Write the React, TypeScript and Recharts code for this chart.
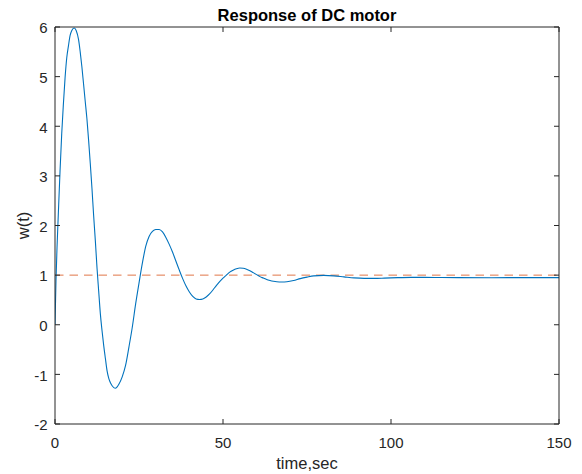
import React from "react";
import { LineChart, Line, XAxis, YAxis, ReferenceLine } from "recharts";

const times: number[] = [
  0, 0.3, 0.6, 1, 1.5, 2, 2.5, 3, 3.5, 4, 4.5, 5, 5.7, 6.3, 7, 7.5, 8, 8.5, 9, 9.5,
  10, 10.5, 11, 11.5, 12, 12.5, 13, 13.5, 14, 14.5, 15, 15.5, 16, 16.5, 17, 17.9,
  18.5, 19, 20, 21, 22, 23, 24, 25, 26, 27, 28, 29, 30, 31, 32, 33, 34, 35, 36,
  37, 38, 39, 40, 41, 42, 43, 44, 45, 46, 47, 48, 49, 50, 51, 52, 53, 54, 55, 56,
  57, 58, 59, 60, 61, 62, 63, 64, 65, 66, 67.5, 69, 71, 73, 75, 77, 80, 83, 86,
  89, 92, 95, 98, 102, 106, 110, 115, 120, 130, 140, 150,
];

const speed: number[] = [
  0, 0.9, 1.55, 2.25, 3.1, 3.85, 4.45, 4.98, 5.38, 5.62, 5.83, 5.93, 5.98, 5.93,
  5.75, 5.5, 5.2, 4.85, 4.5, 4.15, 3.72, 3.25, 2.75, 2.2, 1.7, 1.15, 0.68, 0.22,
  -0.12, -0.42, -0.68, -0.93, -1.08, -1.17, -1.23, -1.28, -1.25, -1.2, -1.05,
  -0.82, -0.45, -0.05, 0.42, 0.84, 1.24, 1.58, 1.78, 1.88, 1.92, 1.92, 1.87, 1.76,
  1.62, 1.46, 1.28, 1.1, 0.93, 0.78, 0.66, 0.57, 0.52, 0.51, 0.52, 0.56, 0.62,
  0.7, 0.79, 0.87, 0.94, 1.0, 1.06, 1.1, 1.13, 1.145, 1.14, 1.12, 1.09, 1.05,
  1.01, 0.97, 0.94, 0.91, 0.89, 0.875, 0.865, 0.86, 0.865, 0.89, 0.93, 0.96,
  0.985, 0.995, 0.985, 0.965, 0.945, 0.935, 0.935, 0.94, 0.95, 0.955, 0.955,
  0.952, 0.95, 0.948, 0.95, 0.95,
];

const referenceValue = 1;
const xTicks: number[] = [0, 50, 100, 150];
const yTicks: number[] = [-2, -1, 0, 1, 2, 3, 4, 5, 6];
const titleText = "Response of DC motor";
const xLabelText = "time,sec";
const yLabelText = "w(t)";

const data = times.map((t, i) => ({ t, w: speed[i] }));

const FONT = "'Liberation Sans', Arial, Helvetica, sans-serif";
const AXIS_COLOR = "#262626";
const tickStyle = { fontSize: 15, fill: AXIS_COLOR, fontFamily: FONT };
const blank = () => "";

export default function App() {
  return (
    <div style={{ position: "absolute", left: 0, top: 0, width: 582, height: 474, background: "#fff" }}>
      <LineChart
        width={582}
        height={474}
        data={data}
        margin={{ top: 0, right: 0, bottom: 0, left: 0 }}
      >
        <XAxis
          xAxisId="bottom"
          dataKey="t"
          type="number"
          domain={[0, 150]}
          ticks={xTicks}
          orientation="bottom"
          height={50}
          tickSize={-5}
          tickMargin={18}
          stroke={AXIS_COLOR}
          tick={tickStyle}
          allowDataOverflow
        />
        <XAxis
          xAxisId="top"
          dataKey="t"
          type="number"
          domain={[0, 150]}
          ticks={xTicks}
          orientation="top"
          height={27}
          tickSize={-5}
          tickFormatter={blank}
          stroke={AXIS_COLOR}
          allowDataOverflow
        />
        <YAxis
          yAxisId="left"
          type="number"
          domain={[-2, 6]}
          ticks={yTicks}
          orientation="left"
          width={55}
          tickSize={-5}
          tickMargin={12.5}
          stroke={AXIS_COLOR}
          tick={{ ...tickStyle, dy: 1 }}
          allowDataOverflow
        />
        <YAxis
          yAxisId="right"
          type="number"
          domain={[-2, 6]}
          ticks={yTicks}
          orientation="right"
          width={23}
          tickSize={-5}
          tickFormatter={blank}
          stroke={AXIS_COLOR}
          allowDataOverflow
        />
        <ReferenceLine
          xAxisId="bottom"
          yAxisId="left"
          y={referenceValue}
          stroke="#D95319"
          strokeWidth={0.8}
          strokeDasharray="8.5 6"
        />
        <Line
          xAxisId="bottom"
          yAxisId="left"
          dataKey="w"
          type="monotone"
          stroke="#0072BD"
          strokeWidth={1.1}
          dot={false}
          isAnimationActive={false}
        />
      </LineChart>
      <svg
        width={582}
        height={474}
        style={{ position: "absolute", left: 0, top: 0, pointerEvents: "none" }}
      >
        <text
          x={307}
          y={20.5}
          textAnchor="middle"
          fontFamily={FONT}
          fontWeight="bold"
          fontSize={16.5}
          fill="#000"
        >
          {titleText}
        </text>
        <text
          x={307}
          y={469}
          textAnchor="middle"
          fontFamily={FONT}
          fontSize={16.5}
          fill={AXIS_COLOR}
        >
          {xLabelText}
        </text>
        <text
          x={28.5}
          y={225.5}
          textAnchor="middle"
          fontFamily={FONT}
          fontSize={16.5}
          fill={AXIS_COLOR}
          transform="rotate(-90 28.5 225.5)"
        >
          {yLabelText}
        </text>
      </svg>
    </div>
  );
}
